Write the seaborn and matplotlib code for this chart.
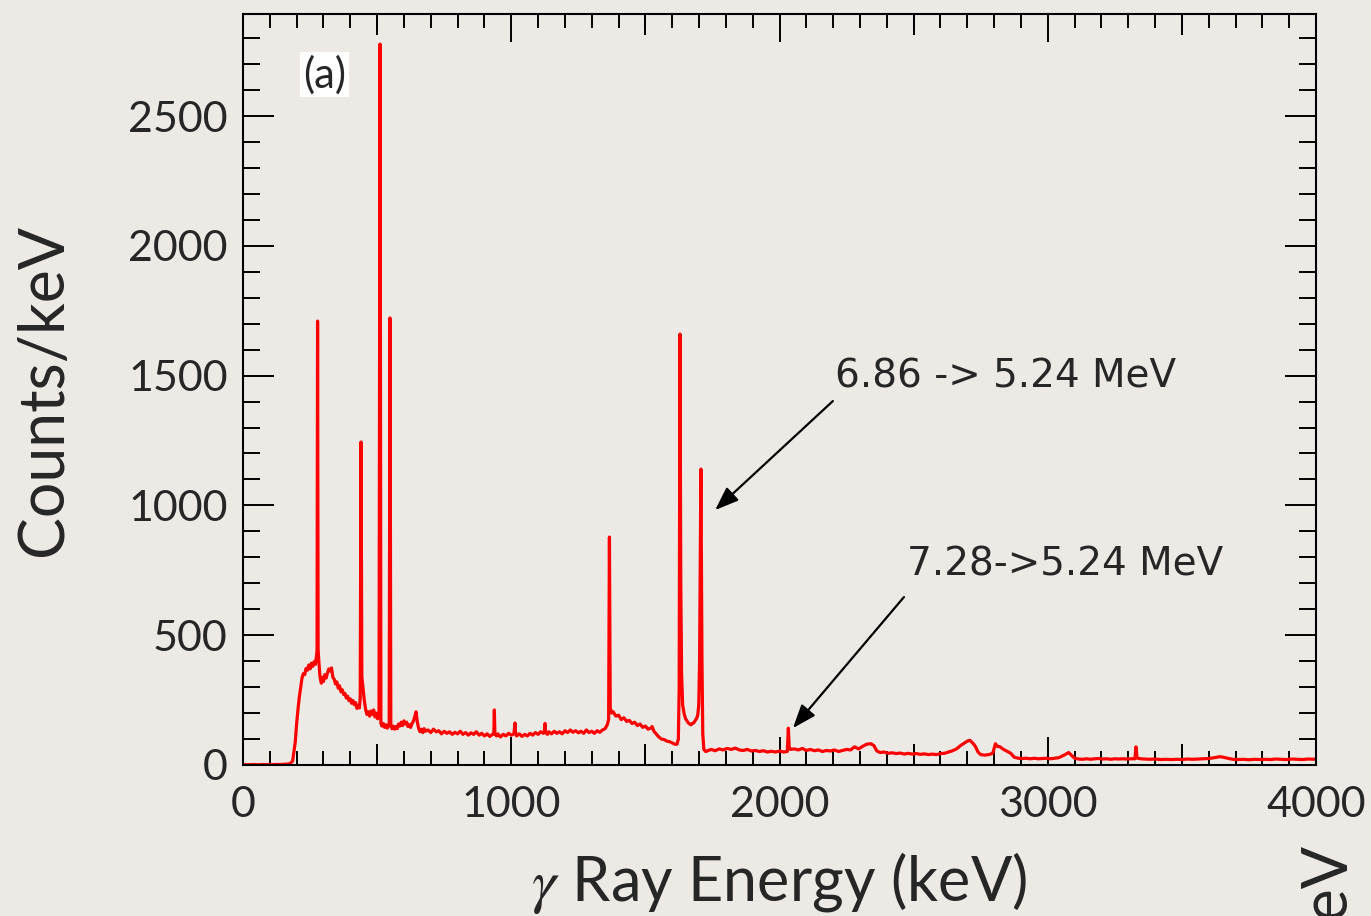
import matplotlib
matplotlib.use("Agg")
import matplotlib.pyplot as plt
from matplotlib.ticker import MultipleLocator, FixedLocator, NullFormatter
import seaborn as sns
import pandas as pd

# ---------------- data ----------------
continuum_energy = [
    0, 20, 40, 60, 80, 100, 120, 140, 160, 175, 185, 195, 200, 205, 210, 215, 220, 225, 230, 235,
    240, 245, 250, 255, 260, 265, 270, 274, 276, 280, 283, 287, 292, 296, 300, 305, 310, 315, 320, 325,
    330, 335, 340, 345, 350, 355, 360, 365, 370, 375, 380, 385, 390, 395, 400, 405, 410, 415, 420, 425,
    430, 434, 437, 443, 447, 452, 457, 462, 467, 472, 477, 482, 487, 492, 497, 502, 507, 514, 518, 523,
    528, 533, 538, 543, 545, 551, 555, 560, 565, 570, 575, 580, 585, 590, 595, 600, 605, 610, 615, 620,
    625, 630, 635, 640, 645, 650, 655, 660, 665, 670, 675, 680, 690, 700, 710, 720, 730, 740, 750, 760,
    770, 780, 790, 800, 810, 820, 830, 840, 850, 860, 870, 880, 890, 900, 910, 920, 930, 935, 939, 945,
    950, 960, 970, 980, 990, 1000, 1010, 1016, 1020, 1030, 1040, 1050, 1060, 1070, 1080, 1090, 1100, 1110, 1120, 1124,
    1128, 1135, 1140, 1150, 1160, 1170, 1180, 1190, 1200, 1210, 1220, 1230, 1240, 1250, 1260, 1270, 1280, 1290, 1300, 1310,
    1320, 1330, 1340, 1350, 1358, 1363, 1369, 1374, 1380, 1390, 1400, 1410, 1420, 1430, 1440, 1450, 1460, 1470, 1480, 1490,
    1500, 1510, 1520, 1525, 1532, 1540, 1550, 1560, 1570, 1580, 1590, 1600, 1610, 1618, 1623, 1626, 1632, 1635, 1639, 1645,
    1650, 1655, 1660, 1665, 1670, 1675, 1680, 1685, 1690, 1695, 1699, 1702, 1711, 1714, 1718, 1725, 1735, 1745, 1760, 1775,
    1790, 1805, 1820, 1835, 1850, 1865, 1880, 1895, 1910, 1925, 1940, 1955, 1970, 1985, 2000, 2015, 2029, 2036, 2040, 2055,
    2070, 2085, 2100, 2115, 2130, 2145, 2160, 2175, 2190, 2205, 2220, 2235, 2250, 2265, 2280, 2295, 2310, 2325, 2340, 2352,
    2362, 2375, 2390, 2405, 2420, 2435, 2450, 2465, 2480, 2495, 2510, 2525, 2540, 2555, 2570, 2585, 2600, 2615, 2630, 2645,
    2660, 2675, 2690, 2700, 2710, 2720, 2730, 2740, 2750, 2765, 2780, 2795, 2805, 2812, 2822, 2835, 2850, 2862, 2875, 2890,
    2905, 2920, 2935, 2950, 2965, 2980, 2995, 3010, 3025, 3040, 3055, 3068, 3078, 3088, 3100, 3115, 3130, 3145, 3160, 3175,
    3190, 3205, 3220, 3235, 3250, 3265, 3280, 3295, 3310, 3325, 3333, 3345, 3360, 3380, 3400, 3420, 3440, 3460, 3480, 3500,
    3520, 3540, 3560, 3580, 3600, 3620, 3640, 3655, 3670, 3690, 3710, 3730, 3750, 3770, 3790, 3810, 3830, 3850, 3870, 3890,
    3910, 3930, 3950, 3970, 4000,
]
continuum_counts = [
    2, 1, 2, 1, 2, 1, 2, 2, 3, 5, 15, 90, 160, 215, 262, 300, 335, 352, 348, 372,
    365, 385, 370, 392, 380, 398, 388, 420, 440, 445, 395, 340, 315, 338, 322, 348, 335, 355, 370, 362,
    374, 338, 330, 312, 320, 296, 305, 282, 290, 272, 276, 258, 265, 248, 255, 238, 248, 232, 240, 218,
    228, 220, 260, 340, 300, 250, 215, 195, 205, 188, 208, 195, 212, 185, 200, 178, 195, 160, 150, 160,
    145, 155, 142, 152, 160, 155, 140, 150, 138, 148, 140, 158, 150, 165, 152, 170, 158, 165, 148, 155,
    145, 160, 168, 185, 205, 165, 140, 128, 138, 125, 140, 130, 135, 125, 138, 128, 132, 120, 130, 122,
    128, 118, 126, 120, 130, 118, 125, 115, 124, 118, 128, 115, 122, 112, 120, 110, 118, 120, 120, 112,
    120, 108, 118, 112, 122, 115, 120, 125, 112, 120, 110, 118, 112, 122, 115, 125, 118, 128, 122, 130,
    125, 118, 128, 120, 130, 122, 128, 120, 132, 125, 135, 126, 132, 124, 130, 122, 135, 125, 130, 122,
    132, 126, 135, 140, 155, 175, 220, 200, 205, 188, 192, 175, 182, 168, 172, 160, 165, 152, 158, 145,
    150, 138, 142, 148, 130, 120, 108, 100, 98, 92, 90, 85, 80, 80, 100, 300, 700, 350, 230, 195,
    178, 170, 162, 158, 155, 160, 162, 170, 178, 190, 230, 400, 400, 120, 60, 52, 56, 60, 55, 62,
    58, 64, 60, 65, 58, 56, 60, 54, 56, 52, 55, 50, 53, 50, 54, 50, 52, 70, 60, 62,
    58, 64, 56, 60, 55, 58, 52, 56, 54, 58, 52, 56, 60, 58, 70, 62, 72, 80, 82, 75,
    55, 48, 50, 45, 47, 44, 46, 42, 45, 42, 44, 41, 43, 40, 42, 40, 44, 45, 50, 55,
    62, 75, 85, 92, 95, 85, 72, 50, 40, 38, 40, 45, 82, 72, 70, 60, 52, 45, 30, 26,
    25, 26, 24, 26, 24, 25, 26, 24, 26, 28, 35, 42, 48, 38, 26, 23, 22, 24, 22, 24,
    25, 23, 24, 22, 24, 23, 24, 23, 24, 24, 27, 24, 23, 22, 23, 21, 22, 21, 22, 21,
    23, 22, 23, 24, 25, 28, 32, 30, 26, 22, 21, 22, 20, 22, 21, 22, 21, 23, 22, 21,
    23, 22, 21, 23, 22,
]

peak_energy = [278, 440, 511, 548, 937, 1014, 1126, 1366, 1629, 1707, 2033, 3329]
peak_counts = [1710, 1244, 2777, 1722, 212, 162, 160, 878, 1660, 1140, 142, 70]

x_ticks = [0, 1000, 2000, 3000, 4000]
y_ticks = [0, 500, 1000, 1500, 2000, 2500]
x_label = r"$\gamma$ Ray Energy (keV)"
y_label = "Counts/keV"
panel_tag = "(a)"
annot_1 = "6.86 -> 5.24 MeV"
annot_2 = "7.28->5.24 MeV"

# ---------------- figure ----------------
BG = "#EDEAE6"
sns.set_theme(style="ticks")
plt.rcParams["font.family"] = ["Lato", "DejaVu Sans"]
plt.rcParams["mathtext.fontset"] = "stix"

df = pd.concat([
    pd.DataFrame({"energy": continuum_energy, "counts": continuum_counts}),
    pd.DataFrame({"energy": peak_energy, "counts": peak_counts}),
]).sort_values("energy").reset_index(drop=True)

fig = plt.figure(figsize=(13.71, 9.16), dpi=100, facecolor=BG)
ax = fig.add_axes([243 / 1371, 1 - 765 / 916, (1316 - 243) / 1371, (765 - 14) / 916])
ax.set_facecolor(BG)

sns.lineplot(data=df, x="energy", y="counts", color="#FF0000", linewidth=2.3,
             estimator=None, sort=True, ax=ax)

ax.set_xlim(0, 4000)
ax.set_ylim(0, 2893)

for s in ax.spines.values():
    s.set_visible(True)
    s.set_linewidth(1.5)
    s.set_color("black")

ax.xaxis.set_major_locator(FixedLocator(x_ticks))
ax.xaxis.set_minor_locator(MultipleLocator(100))
ax.yaxis.set_major_locator(FixedLocator(y_ticks))
ax.yaxis.set_minor_locator(MultipleLocator(100))

ax.tick_params(axis="both", which="both", direction="in", top=True, right=True,
               width=1.4, color="black")
ax.tick_params(axis="x", which="major", length=20, labelsize=31, pad=15)
ax.tick_params(axis="x", which="minor", length=10)
ax.tick_params(axis="y", which="major", length=22, labelsize=31, pad=11)
ax.tick_params(axis="y", which="minor", length=12)

# medium ticks every 500 keV (ROOT style, three tick levels)
for loc in ("bottom", "top"):
    sec = ax.secondary_xaxis(loc)
    sec.xaxis.set_major_locator(FixedLocator([500, 1500, 2500, 3500]))
    sec.xaxis.set_major_formatter(NullFormatter())
    sec.tick_params(direction="in", length=15, width=1.4, color="black")
    sec.xaxis.set_minor_locator(FixedLocator([]))

ax.set_xlabel(x_label, fontsize=44, labelpad=19)
ax.set_ylabel(y_label, fontsize=45, labelpad=40)

ax.text(305, 2659, panel_tag, fontsize=30, ha="center", va="center",
        bbox=dict(facecolor="white", edgecolor="none", pad=2))

ax.text(2207, 1497, annot_1, fontsize=28, ha="left", va="center",
        family=["DejaVu Sans"])
ax.text(2474, 772, annot_2, fontsize=28, ha="left", va="center",
        family=["DejaVu Sans"])

arrow_kw = dict(arrowstyle="-|>,head_length=1.2,head_width=0.45", color="black",
                lw=1.6, shrinkA=0, shrinkB=0)
ax.annotate("", xy=(1760, 982), xytext=(2199, 1402), arrowprops=arrow_kw)
ax.annotate("", xy=(2050, 142), xytext=(2464, 647), arrowprops=arrow_kw)

# clipped label of the neighbouring panel at the right edge (cut off as in the source)
fig.text(1327 / 1371, 1 - 843 / 916, y_label, fontsize=45, rotation=90,
         ha="center", va="top")

fig.savefig("out.png", dpi=100, facecolor=BG)
